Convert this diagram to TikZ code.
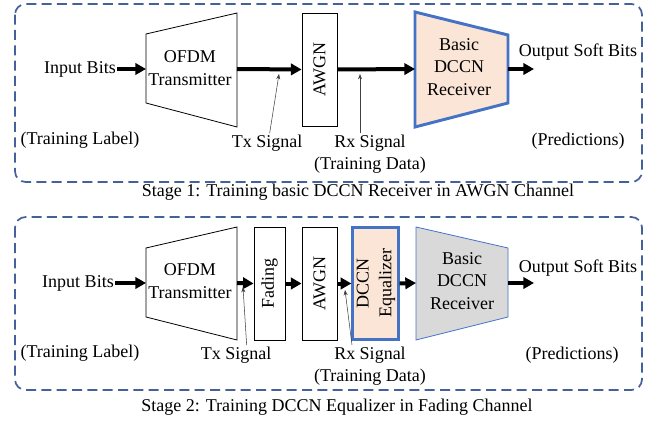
\documentclass[tikz,border=0pt]{standalone}
\usepackage{fontspec}
\setmainfont{Liberation Serif}
\usepackage{graphicx}
\usetikzlibrary{arrows.meta}
\definecolor{frameblue}{HTML}{44619A}
\definecolor{edgeblue}{HTML}{4472C4}
\definecolor{peach}{HTML}{FBE5D6}
\definecolor{boxgray}{HTML}{D9D9D9}

\tikzset{
	frame/.style={draw=frameblue, line width=1.3pt, dash pattern=on 7.5pt off 4pt, rounded corners=8pt},
	sig/.style={-{Triangle[length=8pt,width=8.5pt]}, line width=3pt},
	pointer/.style={-{Stealth[length=4pt,width=3pt]}, line width=0.4pt, black!75},
	chan/.style={draw, line width=0.6pt, minimum height=84.75pt, inner sep=0pt},
	learned/.style={draw=edgeblue, fill=peach, line width=2.2pt},
	trap/.style={draw, line width=0.6pt},
	lbl/.style={align=center, inner sep=1pt}
}

\begin{document}
\begin{tikzpicture}[x=0.75pt, y=-0.75pt, font=\fontsize{13.5}{17}\selectfont]
	\useasboundingbox (0,0) rectangle (667,424);
	
	% stage 1
	\draw[frame] (15,4) rectangle (642,182);
	\node[lbl](cap1) at (358,192){Stage 1: Training basic DCCN Receiver in AWGN Channel};
	
	\node[lbl](in1) at (80,69){Input Bits};
	\draw[trap] (146,34) -- (237,13) -- (237,127) -- (146,103) -- cycle;
	\node[lbl](tx1) at (190,68){OFDM\\Transmitter};
	\coordinate (tx1in) at (146,69);
	\coordinate (tx1out) at (237,69);
	\node[chan, minimum width=26.25pt](awgn1) at (319.5,69.5){\rotatebox{90}{AWGN}};
	\draw[learned] (415,12) -- (508,35) -- (508,103) -- (415,127) -- cycle;
	\node[lbl](rx1) at (459,67){Basic\\DCCN\\Receiver};
	\coordinate (rx1in) at (415,69);
	\coordinate (rx1out) at (508,69);
	\coordinate (out1) at (534,69);
	\node[lbl](soft1) at (578,52){Output Soft Bits};
	
	\draw[sig] (in1.east) -- (tx1in);
	\draw[sig] (tx1out) -- (awgn1.west);
	\draw[sig] (awgn1.east) -- (rx1in);
	\draw[sig] (rx1out) -- (out1);
	
	\node[lbl](lab1) at (80,140){(Training Label)};
	\node[lbl](txl1) at (267,143){Tx Signal};
	\node[lbl, anchor=north](rxl1) at (370,133){Rx Signal\\(Training Data)};
	\node[lbl](pred1) at (578,141){(Predictions)};
	\coordinate (txp1) at (279,74);
	\coordinate (rxp1) at (360,74);
	\draw[pointer] ([xshift=2pt]txl1.north) -- (txp1);
	\draw[pointer] ([xshift=-7.5pt]rxl1.north) -- (rxp1);
	
	% stage 2
	\draw[frame] (15,217) rectangle (642,390);
	\node[lbl](cap2) at (337,407){Stage 2: Training DCCN Equalizer in Fading Channel};
	
	\node[lbl](in2) at (78,283){Input Bits};
	\draw[trap] (146,248) -- (237,227) -- (237,340) -- (146,317) -- cycle;
	\node[lbl](tx2) at (190,281){OFDM\\Transmitter};
	\coordinate (tx2in) at (146,283);
	\coordinate (tx2out) at (237,283);
	\node[chan, minimum width=23.25pt](fad2) at (269.5,283.5){\rotatebox{90}{Fading}};
	\node[chan, minimum width=26.25pt](awgn2) at (319.5,283.5){\rotatebox{90}{AWGN}};
	\node[chan, learned, minimum width=33pt, minimum height=84pt](eq2) at (375.5,283.5)
		{\rotatebox{90}{\begin{tabular}{@{}c@{}}DCCN\\Equalizer\end{tabular}}};
	\draw[trap, draw=edgeblue, fill=boxgray] (416,227) -- (508,248) -- (508,317) -- (416,340) -- cycle;
	\node[lbl](rx2) at (462,281){Basic\\DCCN\\Receiver};
	\coordinate (rx2in) at (416,283);
	\coordinate (rx2out) at (508,283);
	\coordinate (out2) at (534,283);
	\node[lbl](soft2) at (578,268){Output Soft Bits};
	
	\draw[sig] (in2.east) -- (tx2in);
	\draw[sig] (tx2out) -- (fad2.west);
	\draw[sig] (fad2.east) -- (awgn2.west);
	\draw[sig] (awgn2.east) -- (eq2.west);
	\draw[sig] (eq2.east) -- (rx2in);
	\draw[sig] (rx2out) -- (out2);
	
	\node[lbl](lab2) at (80,353){(Training Label)};
	\node[lbl](txl2) at (236,355){Tx Signal};
	\node[lbl, anchor=north](rxl2) at (370,345){Rx Signal\\(Training Data)};
	\node[lbl](pred2) at (572,355){(Predictions)};
	\coordinate (txp2) at (243,287);
	\coordinate (rxp2) at (345,290);
	\draw[pointer] ([xshift=8pt]txl2.north) -- (txp2);
	\draw[pointer] ([xshift=-13.5pt]rxl2.north) -- (rxp2);
\end{tikzpicture}
\end{document}
